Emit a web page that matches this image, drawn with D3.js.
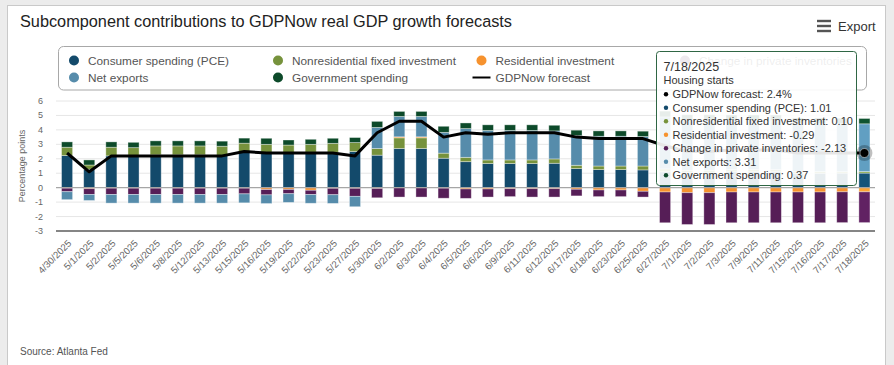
<!DOCTYPE html>
<html>
<head>
<meta charset="utf-8">
<script src="https://cdn.jsdelivr.net/npm/d3@7"></script>
<style>
  html, body { margin: 0; padding: 0; background: #ececec; }
  svg { display: block; font-family: "Liberation Sans", Arial, sans-serif; }
</style>
</head>
<body>
<svg id="chart" width="894" height="365"></svg>
<script>
// release dates
const dates = ["4/30/2025","5/1/2025","5/2/2025","5/5/2025","5/6/2025","5/8/2025","5/12/2025","5/13/2025",
  "5/15/2025","5/16/2025","5/19/2025","5/22/2025","5/23/2025","5/27/2025","5/30/2025","6/2/2025","6/3/2025",
  "6/4/2025","6/5/2025","6/6/2025","6/9/2025","6/11/2025","6/12/2025","6/17/2025","6/18/2025","6/23/2025",
  "6/25/2025","6/27/2025","7/1/2025","7/2/2025","7/3/2025","7/9/2025","7/11/2025","7/15/2025","7/16/2025",
  "7/17/2025","7/18/2025"];

// contributions, percentage points
const pce = [2.22,1.27,2.2,2.2,2.27,2.27,2.27,2.22,2.5,2.38,2.4,2.45,2.45,2.5,2.25,2.71,2.71,2.04,1.8,1.67,
  1.67,1.67,1.69,1.32,1.25,1.25,1.23,1.1,1.05,1.05,1.1,1.1,1.1,1.0,1.0,1.01,1.01];
const nonres = [0.58,0.3,0.6,0.57,0.62,0.62,0.62,0.65,0.58,0.62,0.55,0.55,0.62,0.62,0.46,0.74,0.74,0.35,0.3,
  0.25,0.25,0.25,0.3,0.23,0.25,0.25,0.27,0.2,0.15,0.15,0.15,0.15,0.15,0.12,0.12,0.1,0.1];
const residential = [-0.03,-0.07,-0.03,-0.03,-0.03,-0.03,-0.03,-0.03,-0.03,-0.13,-0.12,-0.18,-0.04,-0.04,-0.05,
  0.07,0.07,-0.03,-0.09,-0.09,-0.07,-0.07,-0.07,-0.11,-0.16,-0.16,-0.25,-0.3,-0.35,-0.35,-0.3,-0.3,-0.3,-0.3,
  -0.3,-0.29,-0.29];
const inventories = [-0.25,-0.4,-0.44,-0.44,-0.44,-0.44,-0.44,-0.44,-0.4,-0.37,-0.3,-0.3,-0.45,-0.56,-0.65,
  -0.65,-0.65,-0.7,-0.65,-0.56,-0.55,-0.58,-0.58,-0.46,-0.46,-0.46,-0.4,-2.13,-2.2,-2.2,-2.13,-2.13,-2.13,
  -2.13,-2.13,-2.13,-2.13];
const netExports = [-0.55,-0.42,-0.6,-0.6,-0.6,-0.6,-0.6,-0.6,-0.62,-0.6,-0.6,-0.6,-0.6,-0.72,1.46,1.41,1.41,
  1.44,1.99,2.04,2.04,2.04,1.94,2.06,2.06,2.06,2.04,3.6,3.45,3.45,3.38,3.38,3.38,3.33,3.33,3.33,3.31];
const government = [0.37,0.35,0.37,0.37,0.35,0.35,0.35,0.35,0.35,0.42,0.35,0.35,0.35,0.35,0.42,0.35,0.35,0.42,
  0.39,0.39,0.39,0.39,0.39,0.37,0.37,0.37,0.37,0.4,0.4,0.4,0.4,0.4,0.4,0.38,0.38,0.37,0.37];

// GDPNow forecast, percent
const gdpNow = [2.4,1.1,2.2,2.2,2.2,2.2,2.2,2.2,2.5,2.4,2.4,2.4,2.4,2.2,3.8,4.6,4.6,3.5,3.8,3.7,3.8,3.8,3.8,
  3.5,3.4,3.4,3.4,2.9,2.5,2.5,2.6,2.6,2.6,2.4,2.4,2.4,2.4];

const yTicks = [-3,-2,-1,0,1,2,3,4,5,6];
const hoverIndex = 36;
const hoverNote = "Housing starts";

const series = [
  {name: "Consumer spending (PCE)", values: pce, color: "#134a6b"},
  {name: "Nonresidential fixed investment", values: nonres, color: "#76923c"},
  {name: "Residential investment", values: residential, color: "#f6922e"},
  {name: "Change in private inventories", values: inventories, color: "#561e57"},
  {name: "Net exports", values: netExports, color: "#568cab"},
  {name: "Government spending", values: government, color: "#0d4a2a"}
];

const svg = d3.select("#chart");

// card
svg.append("rect")
  .attr("x", 7.5).attr("y", 5.5).attr("width", 878).attr("height", 370)
  .attr("fill", "#fff").attr("stroke", "#c9c9c9");

svg.append("text")
  .attr("x", 20).attr("y", 27)
  .attr("font-size", 16.3).attr("fill", "#222")
  .text("Subcomponent contributions to GDPNow real GDP growth forecasts");

// export button
const exp = svg.append("g");
[21, 26, 31].forEach(yy => exp.append("rect")
  .attr("x", 817).attr("y", yy - 1.2).attr("width", 14).attr("height", 2.4).attr("fill", "#555"));
exp.append("text").attr("x", 838).attr("y", 31).attr("font-size", 13).attr("fill", "#333").text("Export");

const x = d3.scaleBand()
  .domain(dates)
  .range([56, 875.5])
  .paddingInner(0.5)
  .paddingOuter(0.25);

const y = d3.scaleLinear()
  .domain([-3, 6])
  .range([231, 101]);

// gridlines
svg.append("g").selectAll("line")
  .data(yTicks.filter(t => t !== -3 && t !== 0))
  .join("line")
  .attr("x1", 56).attr("x2", 875)
  .attr("y1", d => y(d)).attr("y2", d => y(d))
  .attr("stroke", "#e6e6e6");

// y labels
svg.append("g").selectAll("text")
  .data(yTicks)
  .join("text")
  .attr("x", 43).attr("y", d => y(d) + 3)
  .attr("text-anchor", "end")
  .attr("font-size", 9).attr("fill", "#666")
  .text(d => d);

svg.append("text")
  .attr("transform", `translate(25,${(y(6) + y(-3)) / 2}) rotate(-90)`)
  .attr("text-anchor", "middle")
  .attr("font-size", 9).attr("fill", "#666")
  .text("Percentage points");

// stacked bars
const rects = [];
dates.forEach((d, i) => {
  let pos = 0, neg = 0;
  series.forEach(s => {
    const v = s.values[i];
    let y0, y1;
    if (v >= 0) { y0 = pos; y1 = pos + v; pos = y1; }
    else { y0 = neg; y1 = neg + v; neg = y1; }
    rects.push({date: d, i, y0, y1, color: s.color});
  });
});

svg.append("g").selectAll("rect")
  .data(rects)
  .join("rect")
  .attr("x", d => x(d.date))
  .attr("width", x.bandwidth())
  .attr("y", d => y(Math.max(d.y0, d.y1)))
  .attr("height", d => Math.abs(y(d.y0) - y(d.y1)))
  .attr("fill", d => d.i === hoverIndex ? d3.color(d.color).brighter(0.35) : d.color)
  .attr("stroke", "rgba(255,255,255,0.45)")
  .attr("stroke-width", 0.8);

// zero line and axis line
svg.append("line")
  .attr("x1", 56).attr("x2", 875).attr("y1", y(0)).attr("y2", y(0))
  .attr("stroke", "#a6a6a6").attr("stroke-width", 1.3);
svg.append("line")
  .attr("x1", 56).attr("x2", 875).attr("y1", y(-3)).attr("y2", y(-3))
  .attr("stroke", "#858585").attr("stroke-width", 2);

// x labels
svg.append("g").selectAll("text")
  .data(dates)
  .join("text")
  .attr("transform", d => `translate(${x(d) + x.bandwidth() / 2 + 5},${y(-3) + 13}) rotate(-45)`)
  .attr("text-anchor", "end")
  .attr("font-size", 9.6).attr("fill", "#666")
  .text(d => d);

// GDPNow line
const line = d3.line()
  .x((d, i) => x(dates[i]) + x.bandwidth() / 2)
  .y(d => y(d));
svg.append("path")
  .datum(gdpNow)
  .attr("d", line)
  .attr("fill", "none")
  .attr("stroke", "#000")
  .attr("stroke-width", 3)
  .attr("stroke-linejoin", "round");

// hovered marker
const hx = x(dates[hoverIndex]) + x.bandwidth() / 2;
const hy = y(gdpNow[hoverIndex]);
svg.append("circle").attr("cx", hx).attr("cy", hy).attr("r", 8)
  .attr("fill", "#000").attr("fill-opacity", 0.25);
svg.append("circle").attr("cx", hx).attr("cy", hy).attr("r", 4.5)
  .attr("fill", "#000").attr("stroke", "#fff").attr("stroke-width", 0.5);

// legend
svg.append("rect")
  .attr("x", 58.5).attr("y", 46.5).attr("width", 808).attr("height", 43.5).attr("rx", 5)
  .attr("fill", "#fff").attr("stroke", "#a8a8a8");

const legendItems = [
  {s: series[0], lx: 74, ly: 60.5},
  {s: series[1], lx: 278, ly: 60.5},
  {s: series[2], lx: 481.5, ly: 60.5},
  {s: series[3], lx: 685, ly: 60.5},
  {s: series[4], lx: 74, ly: 77.5},
  {s: series[5], lx: 278, ly: 77.5},
  {s: {name: "GDPNow forecast", color: "#000"}, lx: 481.5, ly: 77.5, isLine: true}
];
const lg = svg.append("g").selectAll("g").data(legendItems).join("g");
lg.each(function(d) {
  const g = d3.select(this);
  if (d.isLine) {
    g.append("line").attr("x1", d.lx - 9).attr("x2", d.lx + 9).attr("y1", d.ly).attr("y2", d.ly)
      .attr("stroke", "#000").attr("stroke-width", 2);
  } else {
    g.append("circle").attr("cx", d.lx).attr("cy", d.ly).attr("r", 5).attr("fill", d.s.color);
  }
  g.append("text").attr("x", d.lx + 14).attr("y", d.ly + 4.2)
    .attr("font-size", 11.8).attr("fill", "#555").text(d.s.name);
});

// tooltip
const tip = svg.append("g").attr("transform", "translate(656.5,51.5)");
tip.append("rect")
  .attr("width", 200).attr("height", 134).attr("rx", 3)
  .attr("fill", "#fff").attr("fill-opacity", 0.9)
  .attr("stroke", "#2f6644");
tip.append("text").attr("x", 7).attr("y", 19).attr("font-size", 12.5).attr("fill", "#333")
  .text(dates[hoverIndex]);
tip.append("text").attr("x", 7).attr("y", 32).attr("font-size", 11).attr("fill", "#333")
  .text(hoverNote);
const tipRows = [{name: "GDPNow forecast", color: "#000", text: d3.format(".1f")(gdpNow[hoverIndex]) + "%"}]
  .concat(series.map(s => ({name: s.name, color: s.color, text: d3.format(".2f")(s.values[hoverIndex]).replace("−", "-")})));
tipRows.forEach((r, k) => {
  const ty = 46.5 + k * 13.5;
  tip.append("circle").attr("cx", 9.5).attr("cy", ty - 3.7).attr("r", 2.2).attr("fill", r.color);
  tip.append("text").attr("x", 16).attr("y", ty).attr("font-size", 11).attr("fill", "#333")
    .text(r.name + ": " + r.text);
});

svg.append("text")
  .attr("x", 20).attr("y", 355)
  .attr("font-size", 10).attr("fill", "#555")
  .text("Source: Atlanta Fed");
</script>
</body>
</html>
